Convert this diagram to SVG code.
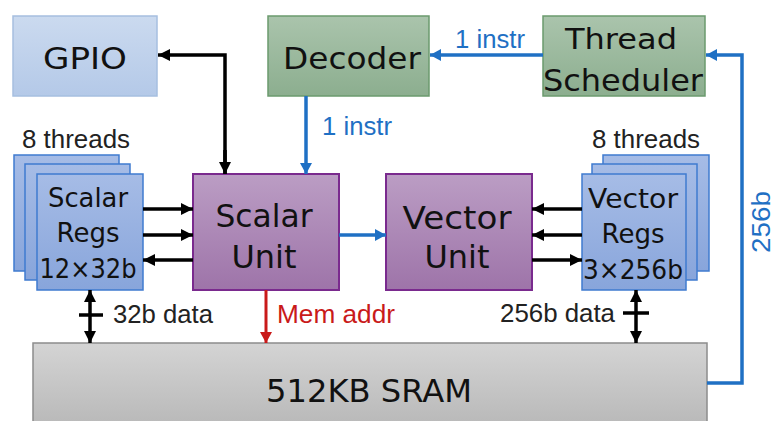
<svg xmlns="http://www.w3.org/2000/svg" width="775" height="421" viewBox="0 0 775 421">
  <defs>
    <linearGradient id="gBlueLight" x1="0" y1="0" x2="0" y2="1">
      <stop offset="0" stop-color="#cbdaef"/>
      <stop offset="1" stop-color="#b4c9e8"/>
    </linearGradient>
    <linearGradient id="gGreen" x1="0" y1="0" x2="0" y2="1">
      <stop offset="0" stop-color="#aac4ac"/>
      <stop offset="1" stop-color="#8cae8f"/>
    </linearGradient>
    <linearGradient id="gRegs" x1="0" y1="0" x2="0" y2="1">
      <stop offset="0" stop-color="#a6bce6"/>
      <stop offset="1" stop-color="#88a5db"/>
    </linearGradient>
    <linearGradient id="gUnit" x1="0" y1="0" x2="0" y2="1">
      <stop offset="0" stop-color="#bb9dc4"/>
      <stop offset="1" stop-color="#9e74a9"/>
    </linearGradient>
    <linearGradient id="gSram" x1="0" y1="0" x2="0" y2="1">
      <stop offset="0" stop-color="#d4d4d4"/>
      <stop offset="1" stop-color="#b8b8b8"/>
    </linearGradient>
    <marker id="ahBlack" viewBox="0 0 12 12" refX="12" refY="6" markerWidth="12" markerHeight="12" markerUnits="userSpaceOnUse" orient="auto-start-reverse">
      <path d="M0,0 L12,6 L0,12 z" fill="#000"/>
    </marker>
    <marker id="ahBlue" viewBox="0 0 11 12" refX="11" refY="6" markerWidth="11" markerHeight="12" markerUnits="userSpaceOnUse" orient="auto">
      <path d="M0,0 L11,6 L0,12 z" fill="#1f70c4"/>
    </marker>
    <marker id="ahRed" viewBox="0 0 11 12" refX="11" refY="6" markerWidth="11" markerHeight="12" markerUnits="userSpaceOnUse" orient="auto">
      <path d="M0,0 L11,6 L0,12 z" fill="#c91a1a"/>
    </marker>
  </defs>
  <style>
    .big { font-family: "DejaVu Sans", "Open Sans", sans-serif; fill: #111; text-anchor: middle; }
    .lbl { font-family: "Liberation Sans", Arial, sans-serif; font-size: 25px; }
    .blk { fill: #222; }
    .blu { fill: #1f70c4; }
    .red { fill: #c91a1a; }
    .io   { fill: url(#gBlueLight); stroke: #a6bfe0; stroke-width: 1.5; }
    .ctl  { fill: url(#gGreen); stroke: #6b9a6e; stroke-width: 1.5; }
    .regs { fill: url(#gRegs); stroke: #3f7bcf; stroke-width: 1.5; }
    .unit { fill: url(#gUnit); stroke: #7a2a8e; stroke-width: 2; }
    .mem  { fill: url(#gSram); stroke: #8c8c8c; stroke-width: 1.5; }
    .wk { fill: none; stroke: #000; stroke-width: 3.5; }
    .wb { fill: none; stroke: #1f70c4; stroke-width: 3.5; }
    .wr { fill: none; stroke: #c91a1a; stroke-width: 3; }
  </style>

  <rect width="775" height="421" fill="#fff"/>

  <g id="gpio">
    <rect class="io" x="13" y="16" width="144" height="80"/>
    <text class="big" x="85" y="69" font-size="30" textLength="84" lengthAdjust="spacingAndGlyphs">GPIO</text>
  </g>

  <g id="decoder">
    <rect class="ctl" x="268" y="16" width="161" height="80"/>
    <text class="big" x="352" y="69" font-size="30" textLength="138" lengthAdjust="spacingAndGlyphs">Decoder</text>
  </g>

  <g id="thread-scheduler">
    <rect class="ctl" x="543" y="16" width="162" height="80"/>
    <text class="big" x="621" y="49" font-size="29" textLength="112" lengthAdjust="spacingAndGlyphs">Thread</text>
    <text class="big" x="623" y="91" font-size="31" textLength="160" lengthAdjust="spacingAndGlyphs">Scheduler</text>
  </g>

  <g id="scalar-regs">
    <text class="lbl blk" x="22" y="148" textLength="108" lengthAdjust="spacingAndGlyphs">8 threads</text>
    <rect class="regs" x="14" y="155" width="105" height="116"/>
    <rect class="regs" x="25" y="164" width="105" height="116"/>
    <rect class="regs" x="37" y="174" width="106" height="116"/>
    <text class="big" x="88" y="207" font-size="27" textLength="80" lengthAdjust="spacingAndGlyphs">Scalar</text>
    <text class="big" x="88" y="242" font-size="27" textLength="63" lengthAdjust="spacingAndGlyphs">Regs</text>
    <text class="big" x="88" y="278" font-size="27" textLength="97" lengthAdjust="spacingAndGlyphs">12×32b</text>
  </g>

  <g id="scalar-unit">
    <rect class="unit" x="193" y="174" width="146" height="116"/>
    <text class="big" x="264" y="227" font-size="32" textLength="97" lengthAdjust="spacingAndGlyphs">Scalar</text>
    <text class="big" x="264" y="268" font-size="32" textLength="65" lengthAdjust="spacingAndGlyphs">Unit</text>
  </g>

  <g id="vector-unit">
    <rect class="unit" x="386" y="174" width="146" height="116"/>
    <text class="big" x="457" y="229" font-size="32" textLength="109" lengthAdjust="spacingAndGlyphs">Vector</text>
    <text class="big" x="457" y="268" font-size="32" textLength="65" lengthAdjust="spacingAndGlyphs">Unit</text>
  </g>

  <g id="vector-regs">
    <text class="lbl blk" x="592" y="148" textLength="108" lengthAdjust="spacingAndGlyphs">8 threads</text>
    <rect class="regs" x="603" y="155" width="106" height="116"/>
    <rect class="regs" x="592" y="164" width="105" height="116"/>
    <rect class="regs" x="582" y="174" width="104" height="116"/>
    <text class="big" x="633" y="208" font-size="27" textLength="90" lengthAdjust="spacingAndGlyphs">Vector</text>
    <text class="big" x="633" y="243" font-size="27" textLength="63" lengthAdjust="spacingAndGlyphs">Regs</text>
    <text class="big" x="633" y="279" font-size="27" textLength="100" lengthAdjust="spacingAndGlyphs">3×256b</text>
  </g>

  <g id="sram">
    <rect class="mem" x="33" y="343" width="674" height="84"/>
    <text class="big" x="369" y="402" font-size="32" textLength="206" lengthAdjust="spacingAndGlyphs">512KB SRAM</text>
  </g>

  <g id="connectors">
    <!-- scalar unit to GPIO -->
    <path class="wk" d="M225,174 V55 H158" marker-end="url(#ahBlack)"/>
    <path class="wk" d="M225,150 V174" marker-end="url(#ahBlack)"/>
    <!-- instruction path -->
    <path class="wb" d="M543,55 H430" marker-end="url(#ahBlue)"/>
    <text class="lbl blu" x="455" y="48" textLength="70" lengthAdjust="spacingAndGlyphs">1 instr</text>
    <path class="wb" d="M306,96 V174" marker-end="url(#ahBlue)"/>
    <text class="lbl blu" x="322" y="135" textLength="70" lengthAdjust="spacingAndGlyphs">1 instr</text>
    <!-- scalar regs <-> scalar unit -->
    <path class="wk" d="M143,209 H193" marker-end="url(#ahBlack)"/>
    <path class="wk" d="M143,235 H193" marker-end="url(#ahBlack)"/>
    <path class="wk" d="M193,260 H143" marker-end="url(#ahBlack)"/>
    <!-- scalar unit to vector unit -->
    <path class="wb" d="M339,235 H386" marker-end="url(#ahBlue)"/>
    <!-- vector regs <-> vector unit -->
    <path class="wk" d="M582,209 H532" marker-end="url(#ahBlack)"/>
    <path class="wk" d="M582,235 H532" marker-end="url(#ahBlack)"/>
    <path class="wk" d="M532,260 H582" marker-end="url(#ahBlack)"/>
    <!-- memory buses -->
    <path class="wk" d="M90,290 V343" stroke-width="3" marker-start="url(#ahBlack)" marker-end="url(#ahBlack)"/>
    <path class="wk" d="M79,315 H103" stroke-width="2.5"/>
    <text class="lbl blk" x="113" y="323" textLength="100" lengthAdjust="spacingAndGlyphs">32b data</text>
    <path class="wr" d="M266,290 V343" marker-end="url(#ahRed)"/>
    <text class="lbl red" x="277" y="323" textLength="118" lengthAdjust="spacingAndGlyphs">Mem addr</text>
    <path class="wk" d="M636,290 V343" stroke-width="3" marker-start="url(#ahBlack)" marker-end="url(#ahBlack)"/>
    <path class="wk" d="M623,313 H649" stroke-width="2.5"/>
    <text class="lbl blk" x="615" y="322" text-anchor="end" textLength="115" lengthAdjust="spacingAndGlyphs">256b data</text>
    <!-- SRAM to thread scheduler -->
    <path class="wb" d="M707,383 H742 V55 H706" marker-end="url(#ahBlue)"/>
    <text class="lbl blu" transform="translate(770,222) rotate(-90)" text-anchor="middle" font-size="24" textLength="62" lengthAdjust="spacingAndGlyphs">256b</text>
  </g>
</svg>
